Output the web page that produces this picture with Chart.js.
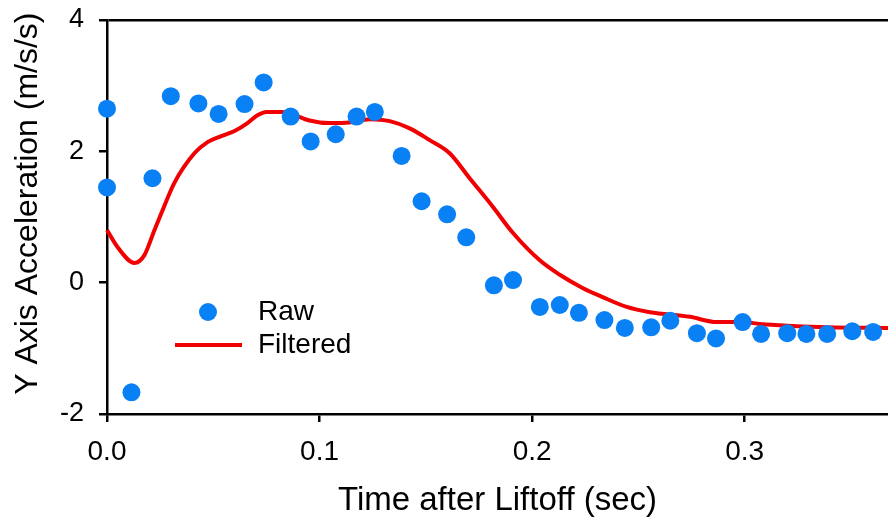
<!DOCTYPE html>
<html>
<head>
<meta charset="utf-8">
<script src="https://cdn.jsdelivr.net/npm/chart.js@4.4.1/dist/chart.umd.min.js"></script>
<style>
  html, body { margin: 0; padding: 0; background: #fff; }
  #wrap { width: 888px; height: 525px; }
</style>
</head>
<body>
<div id="wrap"><canvas id="myChart" width="888" height="525"></canvas></div>
<script>
// datos
const rawTime = [0, 0, 0.0115, 0.0214, 0.030, 0.043, 0.0525, 0.0647, 0.0737, 0.0864,
  0.0958, 0.1076, 0.1174, 0.126, 0.1386, 0.148, 0.160, 0.169, 0.182, 0.191,
  0.2036, 0.213, 0.222, 0.234, 0.2436, 0.256, 0.265, 0.2775, 0.2865, 0.299,
  0.3077, 0.320, 0.329, 0.3388, 0.3506, 0.3604];
const rawAccel = [2.65, 1.45, -1.67, 1.59, 2.84, 2.73, 2.57, 2.72, 3.05, 2.53,
  2.15, 2.26, 2.53, 2.60, 1.93, 1.24, 1.04, 0.69, -0.04, 0.04,
  -0.37, -0.34, -0.46, -0.57, -0.69, -0.68, -0.58, -0.77, -0.85, -0.60,
  -0.78, -0.77, -0.78, -0.78, -0.74, -0.75];

const filtTime = [0, 0.005, 0.0129, 0.0176, 0.0223, 0.0256, 0.0317, 0.0411, 0.0473, 0.0529,
  0.060, 0.0661, 0.0708, 0.0751, 0.0822, 0.0859, 0.0953, 0.1047, 0.1141, 0.1236,
  0.133, 0.1424, 0.1518, 0.1612, 0.1706, 0.1814, 0.1909, 0.2036, 0.213, 0.2237,
  0.2332, 0.2445, 0.2554, 0.2742, 0.2869, 0.2992, 0.3071, 0.3227, 0.3387, 0.3674];
const filtAccel = [0.80, 0.54, 0.30, 0.42, 0.80, 1.06, 1.52, 1.97, 2.14, 2.22,
  2.31, 2.43, 2.55, 2.60, 2.60, 2.58, 2.47, 2.43, 2.44, 2.49,
  2.46, 2.35, 2.17, 1.97, 1.59, 1.16, 0.76, 0.34, 0.12, -0.08,
  -0.22, -0.37, -0.45, -0.52, -0.60, -0.60, -0.63, -0.66, -0.68, -0.69];

const xTicks = [0, 0.1, 0.2, 0.3];
const yTicks = [-2, 0, 2, 4];
const seriesNames = ['Raw', 'Filtered'];

const azul = '#0a80f5';
const rojo = '#f00000';
const fuente = "'Liberation Sans', Arial, sans-serif";

// leyenda dentro del area del grafico
const leyenda = {
  id: 'leyenda',
  afterDatasetsDraw(chart) {
    const ctx = chart.ctx;
    const a = chart.chartArea;
    ctx.save();
    ctx.fillStyle = azul;
    ctx.beginPath();
    ctx.arc(a.left + 101, a.top + 292, 9, 0, Math.PI * 2);
    ctx.fill();
    ctx.strokeStyle = rojo;
    ctx.lineWidth = 4;
    ctx.beginPath();
    ctx.moveTo(a.left + 68, a.top + 325);
    ctx.lineTo(a.left + 135, a.top + 325);
    ctx.stroke();
    ctx.fillStyle = '#000';
    ctx.font = '28px ' + fuente;
    ctx.textBaseline = 'middle';
    ctx.fillText(seriesNames[0], a.left + 151, a.top + 292);
    ctx.fillText(seriesNames[1], a.left + 151, a.top + 325);
    ctx.restore();
  }
};

// quitar el relleno extra que calcula cada eje
function sinRelleno(s) {
  s.paddingTop = 0;
  s.paddingBottom = 0;
  s.paddingLeft = 0;
  s.paddingRight = 0;
}

const ctx = document.getElementById('myChart');

const myChart = new Chart(ctx, {
  type: 'scatter',
  data: {
    datasets: [{
      label: seriesNames[0],
      data: rawTime.map((t, i) => ({ x: t, y: rawAccel[i] })),
      backgroundColor: azul,
      borderWidth: 0,
      pointRadius: 9,
      pointHoverRadius: 9,
      clip: false
    }, {
      type: 'line',
      label: seriesNames[1],
      data: filtTime.map((t, i) => ({ x: t, y: filtAccel[i] })),
      borderColor: rojo,
      borderWidth: 4,
      pointRadius: 0,
      fill: false,
      cubicInterpolationMode: 'monotone',
      clip: false
    }]
  },
  options: {
    responsive: false,
    animation: false,
    layout: { autoPadding: false, padding: { top: 20, right: 0, left: 0, bottom: 0 } },
    plugins: {
      legend: { display: false },
      tooltip: { enabled: false }
    },
    scales: {
      x: {
        type: 'linear',
        min: 0,
        max: 0.3674,
        afterBuildTicks: s => { s.ticks = xTicks.map(v => ({ value: v })); },
        afterFit: s => { s.height = 111; sinRelleno(s); },
        border: { display: true, color: '#000', width: 2.5 },
        grid: { drawOnChartArea: false, drawTicks: true, tickLength: 8, tickColor: '#000', lineWidth: 2.5 },
        ticks: {
          color: '#000',
          padding: 13,
          maxRotation: 0,
          font: { size: 28, family: fuente },
          callback: v => v.toFixed(1)
        },
        title: {
          display: true,
          text: 'Time after Liftoff (sec)',
          color: '#000',
          font: { size: 33, family: fuente },
          padding: { top: 0, bottom: 4 }
        }
      },
      y: {
        min: -2,
        max: 4,
        afterBuildTicks: s => { s.ticks = yTicks.map(v => ({ value: v })); },
        afterFit: s => { s.width = 107; sinRelleno(s); },
        border: { display: true, color: '#000', width: 2.5 },
        grid: {
          drawOnChartArea: true,
          drawTicks: true,
          tickLength: 8,
          tickColor: '#000',
          lineWidth: 2.5,
          color: c => (c.tick && c.tick.value === 4 ? '#000' : 'rgba(0,0,0,0)')
        },
        ticks: {
          color: '#000',
          padding: 15,
          font: { size: 27, family: fuente },
          callback: v => String(v)
        },
        title: {
          display: true,
          text: '   Y Axis Acceleration (m/s/s)',
          color: '#000',
          font: { size: 32, family: fuente },
          padding: { top: 9, bottom: 0 }
        }
      }
    }
  },
  plugins: [leyenda]
});
</script>
</body>
</html>
